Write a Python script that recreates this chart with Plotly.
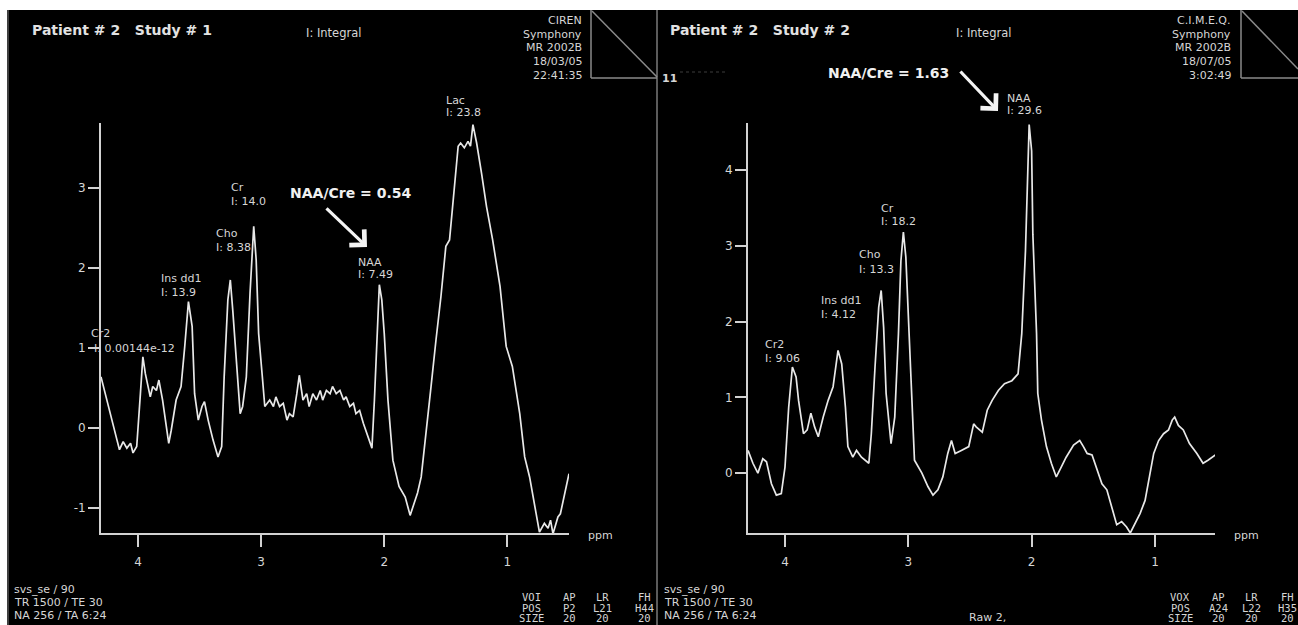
import plotly.graph_objects as go

# ---------------- data ----------------
left_ppm = [4.30, 4.25, 4.21, 4.17, 4.15, 4.12, 4.09, 4.06, 4.04, 4.01, 3.98, 3.96, 3.94, 3.90,
            3.88, 3.85, 3.83, 3.80, 3.75, 3.73, 3.69, 3.65, 3.62, 3.59, 3.56, 3.54, 3.51, 3.48,
            3.46, 3.43, 3.39, 3.35, 3.32, 3.30, 3.27, 3.25, 3.23, 3.20, 3.17, 3.15, 3.12, 3.09,
            3.06, 3.04, 3.02, 2.99, 2.97, 2.93, 2.90, 2.88, 2.85, 2.82, 2.79, 2.77, 2.74, 2.71,
            2.69, 2.66, 2.63, 2.61, 2.58, 2.55, 2.52, 2.50, 2.47, 2.44, 2.42, 2.39, 2.36, 2.33,
            2.31, 2.28, 2.25, 2.23, 2.20, 2.17, 2.15, 2.10, 2.08, 2.06, 2.04, 2.02, 2.00, 1.97,
            1.93, 1.88, 1.83, 1.79, 1.75, 1.73, 1.70, 1.66, 1.62, 1.58, 1.54, 1.50, 1.47, 1.44,
            1.40, 1.38, 1.35, 1.32, 1.30, 1.28, 1.25, 1.21, 1.17, 1.12, 1.06, 1.01, 0.96, 0.90,
            0.86, 0.82, 0.78, 0.74, 0.70, 0.67, 0.65, 0.63, 0.59, 0.57, 0.50]
left_amp = [0.64, 0.35, 0.10, -0.15, -0.27, -0.17, -0.25, -0.19, -0.31, -0.23, 0.43, 0.89, 0.68, 0.39,
            0.52, 0.47, 0.60, 0.35, -0.19, -0.03, 0.35, 0.52, 1.02, 1.58, 1.27, 0.43, 0.10, 0.27,
            0.33, 0.10, -0.15, -0.36, -0.23, 0.64, 1.60, 1.85, 1.47, 0.77, 0.18, 0.27, 0.64, 1.68,
            2.52, 2.10, 1.18, 0.64, 0.27, 0.35, 0.27, 0.39, 0.27, 0.31, 0.10, 0.18, 0.14, 0.43,
            0.66, 0.35, 0.43, 0.27, 0.43, 0.35, 0.47, 0.35, 0.47, 0.43, 0.52, 0.43, 0.47, 0.35,
            0.39, 0.27, 0.31, 0.18, 0.22, 0.06, -0.03, -0.25, 0.35, 1.18, 1.79, 1.60, 1.18, 0.35,
            -0.40, -0.73, -0.86, -1.09, -0.90, -0.81, -0.61, -0.07, 0.52, 1.10, 1.64, 2.27, 2.35, 2.85,
            3.52, 3.56, 3.50, 3.58, 3.52, 3.79, 3.56, 3.18, 2.77, 2.35, 1.77, 1.02, 0.77, 0.18,
            -0.36, -0.61, -0.98, -1.30, -1.19, -1.25, -1.15, -1.32, -1.11, -1.07, -0.57]

right_ppm = [4.30, 4.26, 4.22, 4.18, 4.15, 4.11, 4.07, 4.03, 4.00, 3.97, 3.94, 3.91, 3.89, 3.85,
             3.82, 3.79, 3.76, 3.73, 3.69, 3.65, 3.61, 3.57, 3.54, 3.51, 3.49, 3.45, 3.42, 3.38,
             3.32, 3.30, 3.27, 3.24, 3.22, 3.20, 3.18, 3.14, 3.11, 3.08, 3.06, 3.04, 3.02, 3.00,
             2.97, 2.95, 2.89, 2.84, 2.80, 2.76, 2.72, 2.68, 2.65, 2.62, 2.57, 2.51, 2.47, 2.45,
             2.40, 2.36, 2.32, 2.27, 2.22, 2.16, 2.11, 2.08, 2.05, 2.03, 2.02, 2.00, 1.99, 1.96,
             1.95, 1.92, 1.88, 1.84, 1.80, 1.76, 1.72, 1.66, 1.61, 1.58, 1.55, 1.51, 1.47, 1.43,
             1.39, 1.35, 1.31, 1.27, 1.23, 1.20, 1.16, 1.12, 1.08, 1.04, 1.01, 0.97, 0.93, 0.89,
             0.86, 0.84, 0.81, 0.77, 0.72, 0.66, 0.61, 0.57, 0.51]
right_amp = [0.30, 0.13, 0.00, 0.19, 0.15, -0.14, -0.29, -0.27, 0.08, 0.87, 1.40, 1.27, 0.96, 0.52,
             0.57, 0.79, 0.61, 0.48, 0.74, 0.96, 1.14, 1.62, 1.44, 0.87, 0.35, 0.21, 0.30, 0.21,
             0.13, 0.52, 1.40, 2.19, 2.41, 1.92, 1.05, 0.39, 0.74, 1.84, 2.80, 3.18, 2.85, 2.06,
             0.96, 0.17, 0.00, -0.18, -0.29, -0.22, -0.05, 0.26, 0.43, 0.26, 0.30, 0.35, 0.65, 0.61,
             0.54, 0.83, 0.96, 1.09, 1.18, 1.22, 1.31, 1.84, 2.93, 4.03, 4.60, 4.25, 3.15, 1.84,
             1.05, 0.70, 0.35, 0.13, -0.05, 0.08, 0.21, 0.37, 0.43, 0.35, 0.26, 0.24, 0.04, -0.14,
             -0.22, -0.44, -0.68, -0.64, -0.71, -0.79, -0.66, -0.53, -0.36, 0.00, 0.26, 0.43, 0.52, 0.57,
             0.70, 0.74, 0.63, 0.57, 0.39, 0.26, 0.13, 0.17, 0.24]

x_ticks = [4, 3, 2, 1]
left_yticks = [-1, 0, 1, 2, 3]
right_yticks = [0, 1, 2, 3, 4]

left_title = "Patient # 2   Study # 1"
right_title = "Patient # 2   Study # 2"
left_site = ["CIREN", "Symphony", "MR 2002B", "18/03/05", "22:41:35"]
right_site = ["C.I.M.E.Q.", "Symphony", "MR 2002B", "18/07/05", "3:02:49"]
left_ratio = "NAA/Cre = 0.54"
right_ratio = "NAA/Cre = 1.63"
left_peaks = [("Lac", "I: 23.8"), ("NAA", "I: 7.49"), ("Cr", "I: 14.0"), ("Cho", "I: 8.38"),
              ("Ins dd1", "I: 13.9"), ("Cr2", "I: 0.00144e-12")]
right_peaks = [("NAA", "I: 29.6"), ("Cr", "I: 18.2"), ("Cho", "I: 13.3"),
               ("Ins dd1", "I: 4.12"), ("Cr2", "I: 9.06")]
seq_lines = ["svs_se / 90", "TR 1500 / TE 30", "NA 256 / TA 6:24"]
left_voi = [["VOI", "AP", "LR", "FH"], ["POS", "P2", "L21", "H44"], ["SIZE", "20", "20", "20"]]
right_voi = [["VOX", "AP", "LR", "FH"], ["POS", "A24", "L22", "H35"], ["SIZE", "20", "20", "20"]]

# ---------------- layout helpers ----------------
W, H = 1298, 625
TXT = "#d6d6d6"
AX = "#d2d2d2"
LINE = "#e8e8e8"
FONT = "DejaVu Sans"


def X(px):
    return px / W


def Y(py):
    return 1 - py / H


fig = go.Figure()
fig.add_trace(go.Scatter(x=left_ppm, y=left_amp, mode="lines", xaxis="x", yaxis="y",
                         line=dict(color=LINE, width=1.7), hoverinfo="skip", showlegend=False))
fig.add_trace(go.Scatter(x=right_ppm, y=right_amp, mode="lines", xaxis="x2", yaxis="y2",
                         line=dict(color=LINE, width=1.7), hoverinfo="skip", showlegend=False))

common = dict(showline=True, linecolor=AX, linewidth=2, ticks="outside", tickcolor=AX,
              tickwidth=2, showgrid=False, zeroline=False, fixedrange=True,
              tickfont=dict(family=FONT, size=12, color=TXT))

ydom = [Y(533), Y(123)]
fig.update_layout(
    width=W, height=H, margin=dict(l=0, r=0, t=0, b=0),
    paper_bgcolor="white", plot_bgcolor="rgba(0,0,0,0)",
    xaxis=dict(domain=[X(101), X(569)], range=[4.30, 0.50], anchor="y", tickvals=x_ticks,
               ticklen=12, ticklabelstandoff=5, **common),
    yaxis=dict(domain=ydom, range=[-1.31, 3.81], anchor="x", tickvals=left_yticks,
               ticktext=[str(v) for v in left_yticks], ticklen=11, **common),
    xaxis2=dict(domain=[X(748), X(1215)], range=[4.30, 0.513], anchor="y2", tickvals=x_ticks,
                ticklen=12, ticklabelstandoff=5, **common),
    yaxis2=dict(domain=ydom, range=[-0.79, 4.62], anchor="x2", tickvals=right_yticks,
                ticktext=[str(v) for v in right_yticks], ticklen=11, **common),
)

shapes = []
# black screen area (white strip at top and left)
shapes.append(dict(type="rect", xref="paper", yref="paper", x0=X(7), x1=1, y0=0, y1=Y(10),
                   fillcolor="black", line=dict(width=0), layer="below"))


def seg(x0, y0, x1, y1, color="#8a8a8a", width=1.5, dash="solid"):
    shapes.append(dict(type="line", xref="paper", yref="paper", x0=X(x0), y0=Y(y0), x1=X(x1), y1=Y(y1),
                       line=dict(color=color, width=width, dash=dash)))


seg(8, 10, 8, 625, "#555555", 1.5)
seg(657, 10, 657, 625, "#7a7a7a", 1.5)
# corner boxes
seg(591, 10, 591, 78)
seg(591, 78, 657, 78)
seg(592, 11, 657, 77)
seg(1241, 10, 1241, 78)
seg(1241, 78, 1298, 78)
seg(1242, 11, 1298, 69)
seg(680, 72, 725, 72, "#3c3c3c", 1.2, "dot")
fig.update_layout(shapes=shapes)


def T(px, py, text, size=11, bold=False, xanchor="left", family=FONT, color=TXT):
    fig.add_annotation(x=X(px), y=Y(py), xref="paper", yref="paper", text=text, showarrow=False,
                       xanchor=xanchor, yanchor="middle", borderpad=0,
                       font=dict(family=family, size=size, color=color,
                                 weight="bold" if bold else "normal"))


# titles
T(31, 30, left_title, 14, True, color="#e2e2e2")
T(669, 30, right_title, 14, True, color="#e2e2e2")
T(305, 33, "I: Integral", 11.5)
T(955, 33, "I: Integral", 11.5)
site_y = [20, 34, 48, 61, 75]
for s, yy in zip(left_site, site_y):
    T(583, yy, s, 11, xanchor="right")
for s, yy in zip(right_site, site_y):
    T(1232, yy, s, 11, xanchor="right")
T(661, 78, "11", 11, True)

# ratios + arrows
T(289, 193, left_ratio, 14, True, color="#f0f0f0")
T(827, 73, right_ratio, 14, True, color="#f0f0f0")
for tipx, tipy, axp, ayp in [(367, 247, -42, -40), (998, 111, -39, -41)]:
    fig.add_annotation(x=X(tipx), y=Y(tipy), xref="paper", yref="paper", ax=axp, ay=ayp,
                       axref="pixel", ayref="pixel", text="", showarrow=True, arrowhead=4,
                       arrowsize=1.3, arrowwidth=3.2, arrowcolor="#f4f4f4")

# peak labels (left edge x, first line y, second line y)
left_pos = [(445, 100, 113), (357, 262, 275), (230, 188, 202), (215, 233, 247),
            (160, 278, 292), (90, 333, 348)]
right_pos = [(1006, 98, 111), (880, 208, 222), (858, 255, 270), (820, 300, 314), (764, 344, 358)]
for (name, val), (lx, y1, y2) in zip(left_peaks, left_pos):
    T(lx, y1, name, 11)
    T(lx + (3 if name == "Cr2" else 0), y2, val, 11)
for (name, val), (lx, y1, y2) in zip(right_peaks, right_pos):
    T(lx, y1, name, 11)
    T(lx, y2, val, 11)

# ppm axis labels
T(587, 535, "ppm", 11)
T(1233, 535, "ppm", 11)

# sequence info
for s, yy in zip(seq_lines, [589, 602, 615]):
    T(13, yy, s, 11)
    T(663, yy, s, 11)
T(968, 617, "Raw 2,", 11)

voi_cols_left = [531, 569, 602, 644]
voi_cols_right = [1180, 1218, 1251, 1287]
voi_rows = [597, 607.5, 618]
for r, yy in zip(range(3), voi_rows):
    for c in range(4):
        T(voi_cols_left[c], yy, left_voi[r][c], 10.5, xanchor="center", family="DejaVu Sans Mono")
        T(voi_cols_right[c], yy, right_voi[r][c], 10.5, xanchor="center", family="DejaVu Sans Mono")

fig.write_html("out.html", config={"displayModeBar": False, "staticPlot": True},
               post_script="document.body.style.margin='0';document.body.style.overflow='hidden';")
